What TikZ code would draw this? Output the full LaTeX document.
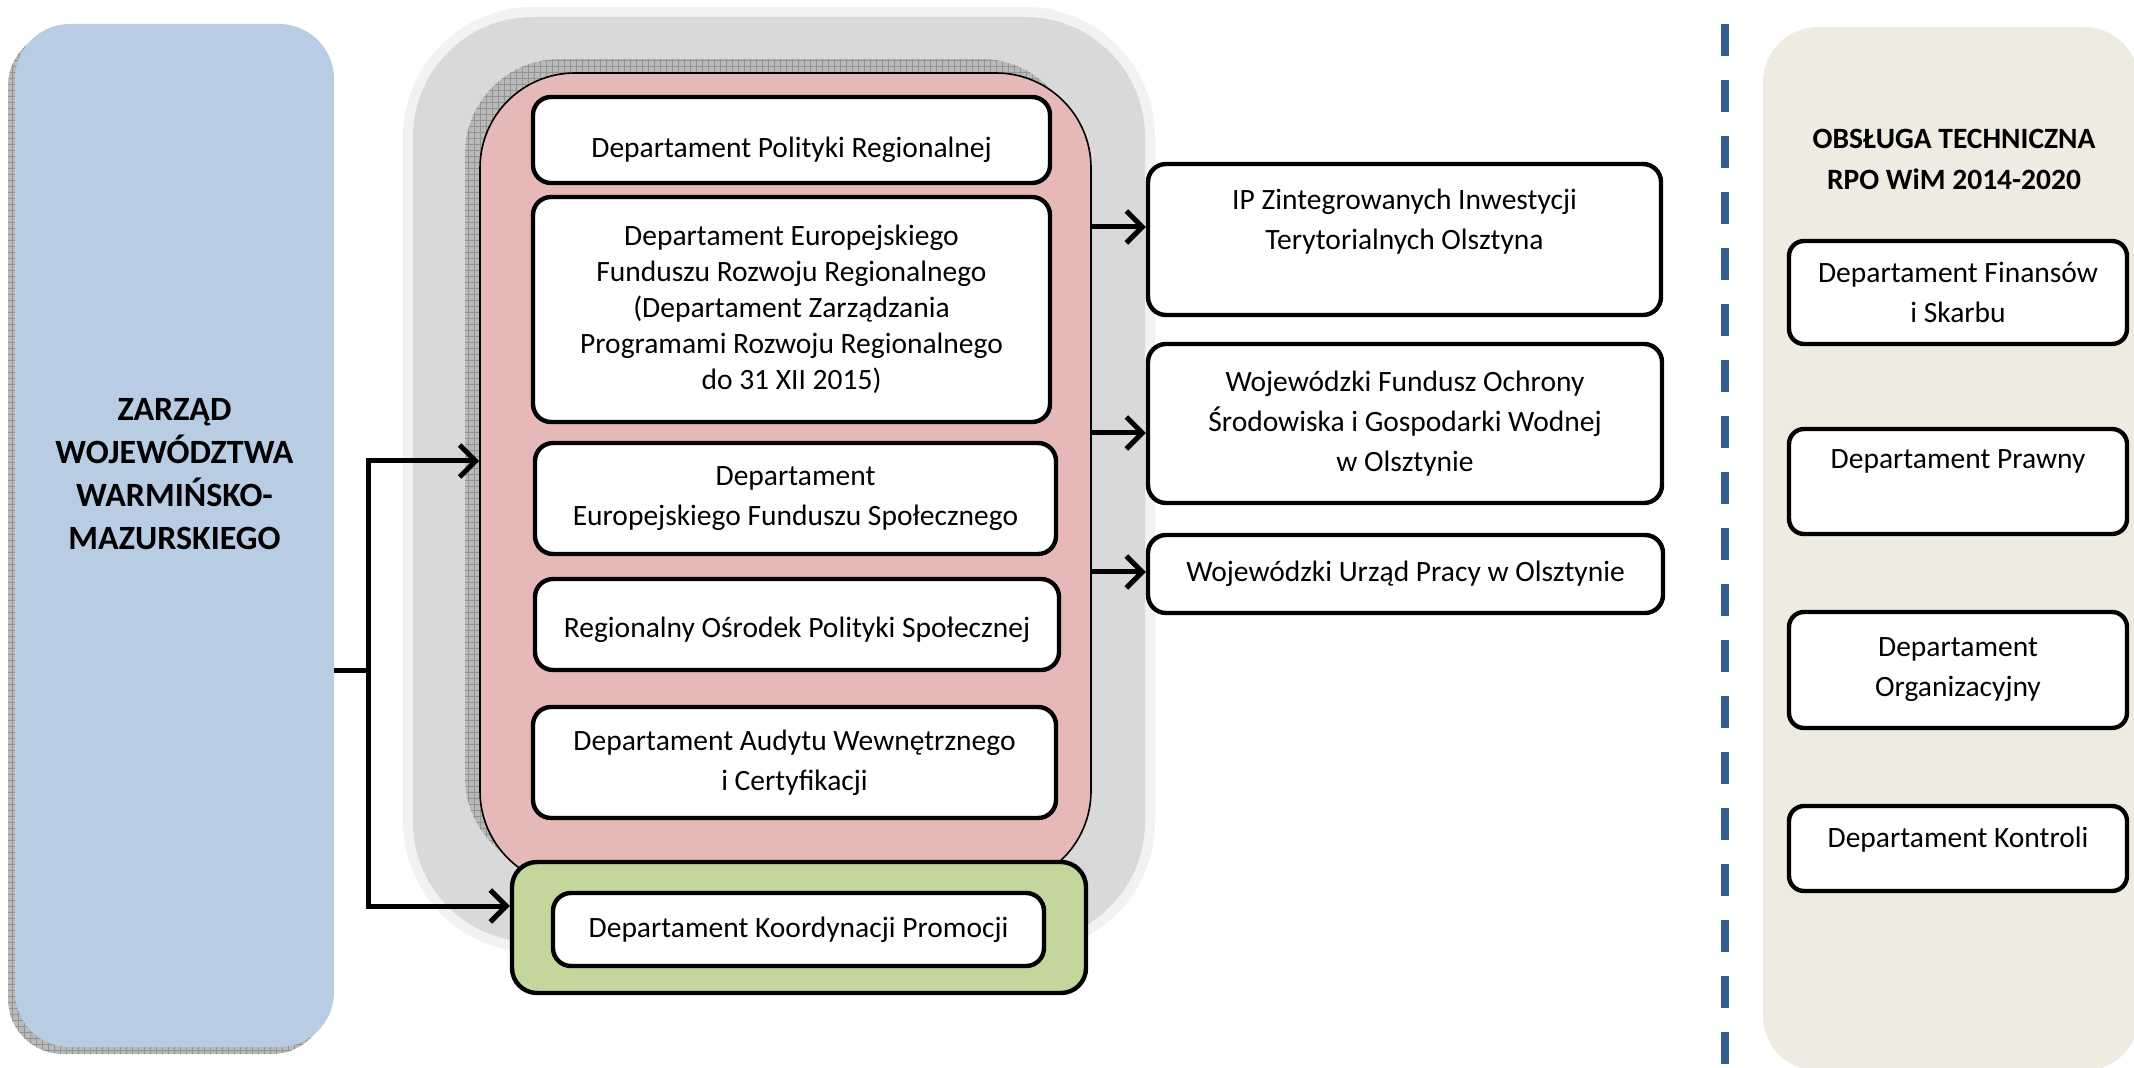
\documentclass[tikz,border=0pt]{standalone}
\usepackage{fontspec}
\setmainfont{Carlito}
\usetikzlibrary{arrows.meta,patterns}

\definecolor{zarzadblue}{HTML}{B8CCE4}
\definecolor{izpink}{HTML}{E6B9B8}
\definecolor{promogreen}{HTML}{C3D69B}
\definecolor{obsbeige}{HTML}{EEECE1}
\definecolor{grupagrey}{HTML}{D9D9D9}
\definecolor{grupaglow}{HTML}{F2F2F2}
\definecolor{linia}{HTML}{365F91}

\begin{document}
\begin{tikzpicture}[x=0.5pt, y=-0.5pt,
    font=\fontsize{14.75}{20}\selectfont,
    dept/.style={rectangle, draw, line width=2.2pt, rounded corners=9pt, fill=white, align=center, inner sep=2pt},
    obsdept/.style={dept, minimum width=169pt, rounded corners=7.5pt},
    arr/.style={line width=2.5pt, -{Straight Barb[length=8pt,width=16pt]}},
    shadowgrid/.style={fill=gray!55, postaction={pattern=grid, pattern color=gray!85}}]
    \useasboundingbox (0,0) rectangle (2134,1068);

    % zarzad
    \path[shadowgrid, rounded corners=27.5pt] (8,31) rectangle (327,1054);
    \node[rectangle, fill=zarzadblue, rounded corners=27.5pt, minimum width=159.5pt, minimum height=511.5pt] (zarzad) at (174.5,535.5) {};
    \node[font=\fontsize{17}{21.5}\selectfont\bfseries, align=center] (zarzadtxt) at (174.5,474) {ZARZĄD\\WOJEWÓDZTWA\\WARMIŃSKO-\\MAZURSKIEGO};

    % grupa
    \fill[grupaglow, rounded corners=65pt] (403,7) rectangle (1155,952);
    \fill[grupagrey, rounded corners=60pt] (413,17) rectangle (1145,942);
    \path[shadowgrid, rounded corners=47.5pt] (465,59) rectangle (1076,872);
    \node[rectangle, draw, line width=0.8pt, fill=izpink, rounded corners=47.5pt, minimum width=305.5pt, minimum height=406.5pt] (iz) at (785.5,479.5) {};

    \node[dept, minimum width=258.5pt, minimum height=43pt, text height=21pt, text depth=3.5pt] (dpr) at (791.5,140) {Departament Polityki Regionalnej};
    \node[dept, minimum width=258.5pt, minimum height=112.5pt, font=\fontsize{14.75}{18}\selectfont] (defrr) at (791.5,309.5) {Departament Europejskiego\\Funduszu Rozwoju Regionalnego\\(Departament Zarządzania\\Programami Rozwoju Regionalnego\\do 31 XII 2015)};
    \node[dept, minimum width=260.5pt, minimum height=55.5pt] (defs) at (795.5,498.5) {Departament\\Europejskiego Funduszu Społecznego};
    \node[dept, minimum width=262pt, minimum height=45.5pt, text height=16pt, text depth=3.5pt] (rops) at (797,624.5) {Regionalny Ośrodek Polityki Społecznej};
    \node[dept, minimum width=261.5pt, minimum height=55.5pt] (daw) at (794.5,762.5) {Departament Audytu Wewnętrznego\\i Certyfikacji};

    \node[rectangle, draw, line width=2.2pt, fill=promogreen, rounded corners=12.5pt, minimum width=287pt, minimum height=65.5pt] (promo) at (799,927.5) {};
    \node[dept, minimum width=245.5pt, minimum height=36.5pt] (dkp) at (798.5,929.5) {Departament Koordynacji Promocji};

    % instytucje
    \node[dept, minimum width=256.5pt, minimum height=75.5pt, text depth=20pt] (ip) at (1404.5,239.5) {IP Zintegrowanych Inwestycji\\Terytorialnych Olsztyna};
    \node[dept, minimum width=257pt, minimum height=79.5pt] (wfos) at (1405,423.5) {Wojewódzki Fundusz Ochrony\\Środowiska i Gospodarki Wodnej\\w Olsztynie};
    \node[dept, minimum width=257.5pt, minimum height=39pt] (wup) at (1405.5,574) {Wojewódzki Urząd Pracy w Olsztynie};

    \draw[arr] (iz.east |- 0,227) -- (ip.west |- 0,227);
    \draw[arr] (iz.east |- 0,433) -- (wfos.west |- 0,433);
    \draw[arr] (iz.east |- 0,572) -- (wup.west |- 0,572);

    \coordinate (rozgal) at (368,670);
    \draw[line width=2.5pt] (zarzad.east |- rozgal) -- (rozgal);
    \draw[arr] (rozgal) |- (iz.west |- 0,461);
    \draw[arr] (rozgal) |- (promo.west |- 0,906);

    % obsluga techniczna
    \coordinate (dtop) at (1725,24);
    \coordinate (dbot) at (1725,1068);
    \draw[linia, line width=4pt, dash pattern=on 16pt off 12pt] (dtop) -- (dbot);

    \node[rectangle, fill=obsbeige, rounded corners=27.5pt, minimum width=188pt, minimum height=522pt] (obsluga) at (1951,549) {};
    \node[font=\fontsize{14.75}{20.5}\selectfont\bfseries, align=center] (obstytul) at (1954,159.5) {OBSŁUGA TECHNICZNA\\RPO WiM 2014-2020};
    \node[obsdept, minimum height=51.5pt] (dfs) at (1958,292.5) {Departament Finansów\\i Skarbu};
    \node[obsdept, minimum height=52.5pt, text depth=22pt] (dp) at (1958,481.5) {Departament Prawny};
    \node[obsdept, minimum height=58pt] (dor) at (1958,670) {Departament\\Organizacyjny};
    \node[obsdept, minimum height=42.5pt, text depth=11.5pt] (dk) at (1958,848.5) {Departament Kontroli};
\end{tikzpicture}
\end{document}
